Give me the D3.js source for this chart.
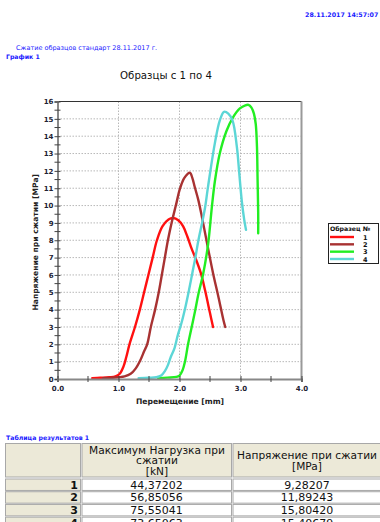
<!DOCTYPE html>
<html>
<head>
<meta charset="utf-8">
<script src="https://cdn.jsdelivr.net/npm/d3@7"></script>
<style>
  html, body { margin: 0; padding: 0; background: #fff; }
  svg { display: block; font-family: "DejaVu Sans", Verdana, sans-serif; }
</style>
</head>
<body>
<svg id="page" width="380" height="522"></svg>
<script>
// Specimen numbers and curve colours
const specimens = ["1", "2", "3", "4"];
const colors = ["#ff1010", "#a83232", "#22ee22", "#5cd6d6"];

// Stress–displacement curves, [displacement mm, stress MPa]
const curve1 = [[0.57,0.05],[0.7,0.07],[0.85,0.1],[0.95,0.15],[1.02,0.3],[1.08,0.7],[1.13,1.3],[1.18,2.0],[1.27,3.0],[1.35,4.0],[1.42,5.0],[1.49,6.0],[1.56,7.0],[1.63,8.0],[1.72,8.8],[1.82,9.2],[1.9,9.28207],[1.98,9.15],[2.06,8.8],[2.13,8.2],[2.2,7.5],[2.27,6.9],[2.35,6.1],[2.42,5.1],[2.5,3.8],[2.55,3.0]];
const curve2 = [[0.75,0.05],[0.9,0.07],[1.0,0.1],[1.1,0.15],[1.2,0.3],[1.28,0.6],[1.36,1.1],[1.42,1.6],[1.47,2.0],[1.53,3.0],[1.6,4.0],[1.66,5.0],[1.71,6.0],[1.76,7.0],[1.81,8.0],[1.87,9.0],[1.94,10.0],[2.01,11.0],[2.08,11.6],[2.17,11.89243],[2.21,11.6],[2.25,11.07],[2.31,10.3],[2.37,9.3],[2.42,8.4],[2.47,7.5],[2.55,6.1],[2.64,4.7],[2.72,3.4],[2.75,3.0]];
const curve3 = [[1.65,0.05],[1.8,0.08],[1.95,0.12],[2.0,0.2],[2.05,0.5],[2.09,1.0],[2.14,2.0],[2.2,3.0],[2.26,4.0],[2.31,4.9],[2.39,6.1],[2.47,7.8],[2.53,9.9],[2.58,11.4],[2.66,13.0],[2.77,14.3],[2.88,15.1],[2.99,15.6],[3.08,15.78],[3.13,15.8042],[3.18,15.65],[3.22,15.3],[3.25,14.7],[3.27,13.4],[3.28,11.5],[3.29,9.6],[3.29,8.4]];
const curve4 = [[1.33,0.05],[1.5,0.07],[1.62,0.1],[1.7,0.2],[1.76,0.45],[1.81,0.8],[1.86,1.3],[1.92,1.8],[1.97,2.5],[2.03,3.2],[2.1,4.2],[2.16,5.2],[2.21,6.1],[2.26,7.0],[2.31,8.0],[2.37,9.0],[2.42,9.9],[2.46,10.9],[2.5,11.85],[2.58,13.6],[2.66,14.9],[2.73,15.40679],[2.8,15.3],[2.87,14.9],[2.94,13.4],[2.98,11.85],[3.02,10.3],[3.06,9.2],[3.09,8.6]];
const curves = [curve1, curve2, curve3, curve4];

// Axis ticks
const xTicks = [0, 1, 2, 3, 4];
const xTickLabels = ["0.0", "1.0", "2.0", "3.0", "4.0"];
const yTicks = d3.range(0, 17);

// Results table
const tableHeaders = ["", "Максимум Нагрузка при|сжатии|[kN]", "Напряжение при сжатии|[MPa]"];
const maxLoad = ["44,37202", "56,85056", "75,55041", "73,65063"];
const maxStress = ["9,28207", "11,89243", "15,80420", "15,40679"];

const svg = d3.select("#page");
const blue = "#1a1aff";

// Report header texts
svg.append("text").attr("x", 305).attr("y", 17).attr("font-size", 6.3).attr("font-weight", "bold")
  .attr("fill", blue).text("28.11.2017 14:57:07");
svg.append("text").attr("x", 16).attr("y", 50).attr("font-size", 6.5).attr("fill", blue)
  .text("Сжатие образцов стандарт 28.11.2017 г.");
svg.append("text").attr("x", 6).attr("y", 59).attr("font-size", 6.2).attr("font-weight", "bold")
  .attr("fill", blue).text("График 1");
svg.append("text").attr("x", 166).attr("y", 79).attr("font-size", 10.2).attr("text-anchor", "middle")
  .attr("fill", "#111").text("Образцы с 1 по 4");

// Chart area
const x = d3.scaleLinear().domain([0, 4]).range([57.5, 301.5]);
const y = d3.scaleLinear().domain([0, 16]).range([379, 101.5]);

const g = svg.append("g");

// Dotted grid
g.selectAll(".gx").data(xTicks.slice(1, -1)).join("line")
  .attr("x1", d => x(d)).attr("x2", d => x(d)).attr("y1", y(0)).attr("y2", y(16))
  .attr("stroke", "#b8b8b8").attr("stroke-dasharray", "1.5,1.5");
g.selectAll(".gy").data(yTicks.slice(1, -1)).join("line")
  .attr("x1", x(0)).attr("x2", x(4)).attr("y1", d => y(d)).attr("y2", d => y(d))
  .attr("stroke", "#b8b8b8").attr("stroke-dasharray", "1.5,1.5");

// Frame: top dark, right and axes grey
g.append("line").attr("x1", x(0)).attr("x2", x(4)).attr("y1", y(16)).attr("y2", y(16))
  .attr("stroke", "#333").attr("stroke-width", 1.2);
g.append("line").attr("x1", x(4)).attr("x2", x(4)).attr("y1", y(16)).attr("y2", y(0))
  .attr("stroke", "#999").attr("stroke-width", 2);

// Curves
const line = d3.line().x(d => x(d[0])).y(d => y(d[1])).curve(d3.curveCatmullRom.alpha(0.5));
g.selectAll(".curve").data(curves).join("path")
  .attr("d", line).attr("fill", "none")
  .attr("stroke", (d, i) => colors[i]).attr("stroke-width", 2.4)
  .attr("stroke-linejoin", "round").attr("stroke-linecap", "round");

// Axes
const yAxis = d3.axisLeft(y).tickValues(yTicks).tickSize(3).tickFormat(d3.format("d"));
const yAx = svg.append("g").attr("transform", `translate(${x(0)},0)`).call(yAxis);
const xAxis = d3.axisBottom(x).tickValues(xTicks).tickSize(3).tickFormat((d, i) => xTickLabels[i]);
const xAx = svg.append("g").attr("transform", `translate(0,${y(0)})`).call(xAxis);

[yAx, xAx].forEach(a => {
  a.select(".domain").attr("stroke", "#888").attr("stroke-width", 2);
  a.selectAll(".tick line").attr("stroke", "#444");
  a.selectAll(".tick text").attr("font-size", 7).attr("font-weight", "bold")
    .attr("fill", "#223").attr("font-family", "DejaVu Sans, sans-serif");
});
yAx.selectAll(".tick line").attr("x1", 3).attr("x2", -3);
yAx.selectAll(".tick text").attr("x", -4);
xAx.selectAll(".tick line").attr("y1", -3).attr("y2", 3);
xAx.selectAll(".tick text").attr("y", 7);

// Minor ticks at half units
const yMinor = d3.range(0.5, 16, 1);
svg.append("g").selectAll("line").data(yMinor).join("line")
  .attr("x1", x(0) - 3).attr("x2", x(0) + 3).attr("y1", d => y(d)).attr("y2", d => y(d))
  .attr("stroke", "#444");
const xMinor = d3.range(0.5, 4, 1);
svg.append("g").selectAll("line").data(xMinor).join("line")
  .attr("x1", d => x(d)).attr("x2", d => x(d)).attr("y1", y(0) - 3).attr("y2", y(0) + 3)
  .attr("stroke", "#444");

// Axis titles
svg.append("text").attr("transform", `translate(38,${(y(0) + y(16)) / 2 + 2}) rotate(-90)`)
  .attr("text-anchor", "middle").attr("font-size", 7.6).attr("font-weight", "bold").attr("fill", "#222")
  .text("Напряжение при сжатии [MPa]");
svg.append("text").attr("x", 180).attr("y", 404).attr("text-anchor", "middle")
  .attr("font-size", 7.6).attr("font-weight", "bold").attr("fill", "#222")
  .text("Перемещение [mm]");

// Legend
const lg = svg.append("g");
lg.append("rect").attr("x", 328.5).attr("y", 223.5).attr("width", 50).attr("height", 40)
  .attr("fill", "#fff").attr("stroke", "#222");
lg.append("text").attr("x", 330).attr("y", 231).attr("font-size", 6.2).attr("font-weight", "bold")
  .attr("fill", "#111").text("Образец №");
const ly = d3.scalePoint().domain(specimens).range([237, 259]);
lg.selectAll(".ll").data(specimens).join("line")
  .attr("x1", 330).attr("x2", 354).attr("y1", d => ly(d)).attr("y2", d => ly(d))
  .attr("stroke", (d, i) => colors[i]).attr("stroke-width", 2.4);
lg.selectAll(".lt").data(specimens).join("text")
  .attr("x", 363).attr("y", d => ly(d) + 2.5).attr("font-size", 6.5).attr("font-weight", "bold")
  .attr("fill", "#111").text(d => d);

// Results table
svg.append("text").attr("x", 6).attr("y", 440).attr("font-size", 6.2).attr("font-weight", "bold")
  .attr("fill", blue).text("Таблица результатов 1");

const beige = "#ece9d8";
const colX = [5, 81.5, 232.5, 390];
const headTop = 443, headBottom = 477.5;
const rowTops = d3.scaleBand().domain(specimens).range([headBottom + 1, headBottom + 1 + 4 * 12.4]).paddingInner(0.1);
const tg = svg.append("g").attr("font-size", 11).attr("fill", "#111");

// Header cells
tableHeaders.forEach((h, i) => {
  tg.append("rect").attr("x", colX[i] + 0.5).attr("y", headTop + 0.5)
    .attr("width", colX[i + 1] - colX[i] - 1.5).attr("height", headBottom - headTop - 1)
    .attr("fill", beige).attr("stroke", "#a8a8a8");
  const linesTxt = h ? h.split("|") : [];
  const cx = (colX[i] + Math.min(colX[i + 1], 385)) / 2;
  const start = (headTop + headBottom) / 2 - (linesTxt.length - 1) * 5.3 + 4;
  linesTxt.forEach((t, k) => {
    tg.append("text").attr("x", i === 2 ? 307 : cx).attr("y", start + k * 10.6)
      .attr("text-anchor", "middle").attr("font-size", 10.6).attr("fill", "#111").text(t);
  });
});

// Data rows
specimens.forEach((s, r) => {
  const top = rowTops(s), h = rowTops.bandwidth();
  tg.append("rect").attr("x", colX[0] + 0.5).attr("y", top + 0.5).attr("width", colX[1] - colX[0] - 1.5)
    .attr("height", h).attr("fill", beige).attr("stroke", "#a8a8a8");
  tg.append("rect").attr("x", colX[1] + 0.5).attr("y", top + 0.5).attr("width", colX[2] - colX[1] - 1.5)
    .attr("height", h).attr("fill", "#fff").attr("stroke", "#a8a8a8");
  tg.append("rect").attr("x", colX[2] + 0.5).attr("y", top + 0.5).attr("width", colX[3] - colX[2] - 1.5)
    .attr("height", h).attr("fill", "#fff").attr("stroke", "#a8a8a8");
  const by = top + h / 2 + 4.5;
  tg.append("text").attr("x", 78).attr("y", by).attr("text-anchor", "end").attr("font-weight", "bold").text(s);
  tg.append("text").attr("x", 156.5).attr("y", by).attr("text-anchor", "middle").text(maxLoad[r]);
  tg.append("text").attr("x", 307).attr("y", by).attr("text-anchor", "middle").text(maxStress[r]);
});
</script>
</body>
</html>
